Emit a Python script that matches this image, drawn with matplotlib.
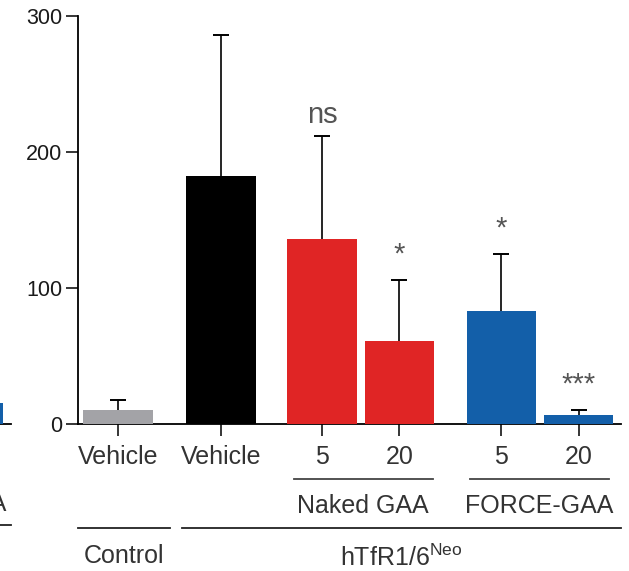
import matplotlib
matplotlib.use("Agg")
import matplotlib.pyplot as plt
from matplotlib.transforms import blended_transform_factory

plt.rcParams["font.family"] = ["Liberation Sans", "DejaVu Sans"]

# ---- data ----
groups = ["Vehicle", "Vehicle", "5", "20", "5", "20"]
xpos = [0.0, 1.33, 2.64, 3.64, 4.96, 5.96]
means = [10, 182.5, 136, 61, 83, 6]
sd = [7, 103.5, 76, 45, 42, 4]
signif = ["", "", "ns", "*", "*", "***"]
bar_colors = ["#a3a3a7", "#000000", "#e02525", "#e02525", "#135fa9", "#135fa9"]
yticks = [0, 100, 200, 300]

# treatment groups under the dose labels
dose_groups = ["Naked GAA", "FORCE-GAA"]
dose_spans = [(2.27, 4.07), (4.55, 6.35)]
strain_groups = ["Control", "hTfR1/6$^{\\mathregular{Neo}}$"]
strain_spans = [(-0.52, 0.67), (0.83, 6.51)]

# partial neighbouring panel visible at the left edge
left_x = [5.96]
left_means = [15]

W, H = 629, 571
fig = plt.figure(figsize=(W / 100, H / 100), dpi=100)

ax_w = 543 / W
bottom = 1 - 423.5 / H
height = (423.5 - 16) / H
ax = fig.add_axes([78 / W, bottom, ax_w, height])
ax_left = fig.add_axes([11 / W - ax_w, bottom, ax_w, height])

txt = "#333333"


def style_axes(a):
    a.set_xlim(-0.52, 6.51)
    a.set_ylim(0, 300)
    for s in ["top", "right"]:
        a.spines[s].set_visible(False)
    for s in ["left", "bottom"]:
        a.spines[s].set_linewidth(1.3)
    a.tick_params(axis="both", length=8.3, width=1.1, direction="out")
    a.tick_params(axis="x", labelsize=18, pad=7, labelcolor=txt)
    a.tick_params(axis="y", labelsize=15.5, pad=3, labelcolor="#1a1a1a")


style_axes(ax)
ax.bar(xpos, means, width=0.9, color=bar_colors, zorder=3)
eb = ax.errorbar(xpos, means, yerr=[[0] * len(sd), sd], fmt="none", ecolor="black",
                 elinewidth=1.2, capsize=6, capthick=1.4, zorder=2)
# upper error only: hide the cap at the bar top
eb[1][0].set_visible(False)
ax.set_xticks(xpos)
ax.set_xticklabels(groups)
ax.set_yticks(yticks)

for x, m, s, lab in zip(xpos, means, sd, signif):
    if not lab:
        continue
    if lab == "ns":
        ax.text(x, m + s + 9, lab, ha="center", va="baseline", fontsize=21, color="#555555")
    else:
        ax.text(x, m + s + 8, lab, ha="center", va="bottom", fontsize=21, color="#555555")

tr = blended_transform_factory(ax.transData, fig.transFigure)
for name, (x0, x1) in zip(dose_groups, dose_spans):
    ax.plot([x0, x1], [1 - 479 / H] * 2, color="#444444", lw=1.3, transform=tr, clip_on=False)
    ax.text((x0 + x1) / 2, 1 - 513 / H, name, ha="center", va="baseline",
            fontsize=18, color=txt, transform=tr)
for name, (x0, x1), yb in zip(strain_groups, strain_spans, [563, 566]):
    ax.plot([x0, x1], [1 - 528 / H] * 2, color="#222222", lw=1.3, transform=tr, clip_on=False)
    ax.text((x0 + x1) / 2, 1 - yb / H, name, ha="center", va="baseline",
            fontsize=18, color=txt, transform=tr)

# left neighbour panel fragment (cut by the figure edge, as in the reference)
style_axes(ax_left)
ax_left.spines["left"].set_visible(False)
ax_left.set_yticks([])
ax_left.set_xticks([])
ax_left.bar(left_x, left_means, width=0.9, color="#135fa9", zorder=3)
trl = blended_transform_factory(ax_left.transData, fig.transFigure)
ax_left.text((dose_spans[1][0] + dose_spans[1][1]) / 2 + 0.04, 1 - 511 / H, dose_groups[1],
             ha="center", va="baseline", fontsize=18, color=txt, transform=trl)
ax_left.plot([0.83, 6.51], [1 - 525 / H] * 2, color="#222222", lw=1.3, transform=trl, clip_on=False)

fig.savefig("out.png", dpi=100)
